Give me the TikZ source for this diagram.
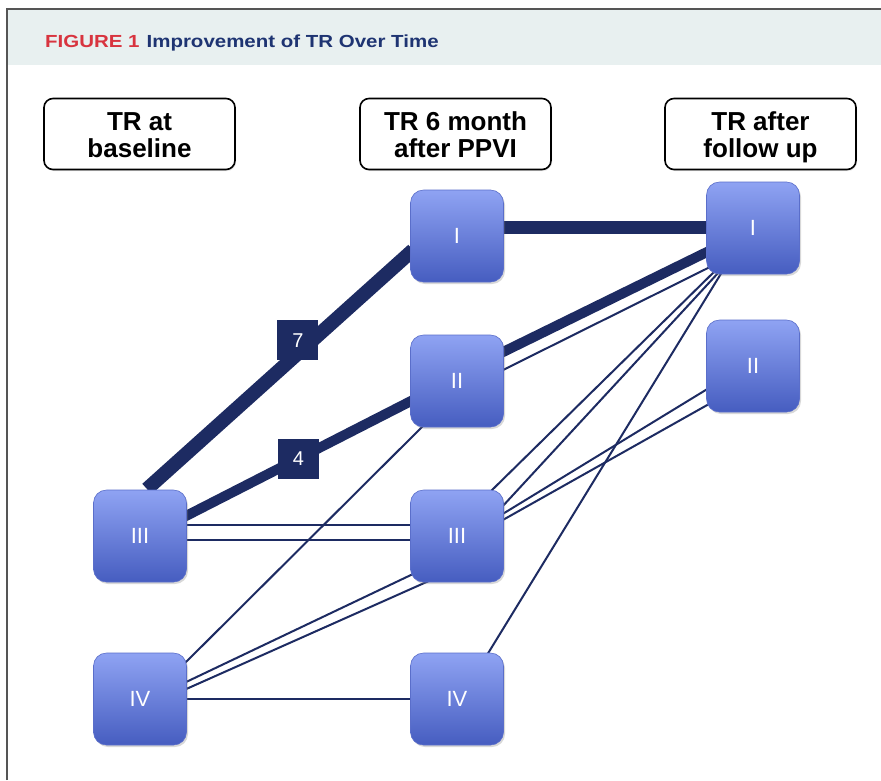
\documentclass[tikz,border=0pt]{standalone}
\usepackage{fontspec}
\setmainfont{Liberation Sans}
\newfontfamily\titlefont{Liberation Sans}[FakeStretch=1.17]
\usetikzlibrary{calc,shadows,backgrounds}
\definecolor{navy}{HTML}{1D2B62}
\definecolor{nodetop}{HTML}{8FA3F3}
\definecolor{nodebot}{HTML}{465DC0}
\definecolor{nodeedge}{HTML}{5A6ECA}
\definecolor{bandfill}{HTML}{E8F0F0}
\definecolor{framegray}{HTML}{555555}
\definecolor{figred}{HTML}{D8343F}
\definecolor{figblue}{HTML}{1E3472}
\newcommand{\hstrut}{\rule{0pt}{25pt}}
\begin{document}
\begin{tikzpicture}[x=1pt,y=-1pt,
  rn/.style={rectangle, rounded corners=13pt, minimum width=93pt, minimum height=92pt,
    top color=nodetop, bottom color=nodebot, draw=nodeedge, line width=0.6pt,
    text=white, font=\fontsize{22}{22}\selectfont,
    drop shadow={shadow xshift=1.5pt, shadow yshift=-2pt, opacity=0.3}},
  hdr/.style={rectangle, rounded corners=9pt, minimum width=191pt, minimum height=71pt,
    draw=black, line width=1.6pt, fill=white, align=center,
    font=\fontsize{26}{27}\selectfont\bfseries,
    drop shadow={shadow xshift=1pt, shadow yshift=-1.5pt, opacity=0.2}},
  lab/.style={rectangle, fill=navy, minimum width=41pt, minimum height=40pt, inner sep=0pt,
    text=white, font=\fontsize{20}{20}\selectfont},
  thin/.style={draw=navy, line width=2pt},
  thickA/.style={draw=navy, line width=14pt},
  thickB/.style={draw=navy, line width=10pt},
  thickC/.style={draw=navy, line width=13pt}
]
\useasboundingbox (0,0) rectangle (881,780);
% header band and frame
\fill[bandfill] (8,10) rectangle (881,65);
\draw[framegray, line width=2pt] (7,780) -- (7,9) -- (881,9);
\node[anchor=base west, inner sep=0pt, font=\titlefont\fontsize{17.5}{17.5}\selectfont\bfseries] (title) at (45,47)
  {\textcolor{figred}{FIGURE 1}\hspace{7pt}\textcolor{figblue}{Improvement of TR Over Time}};
% column headers
\node[hdr] (h1) at (139.5,134) {\hstrut TR at\\baseline\vphantom{p}};
\node[hdr] (h2) at (455.5,134) {\hstrut TR 6 month\\after PPVI\vphantom{p}};
\node[hdr] (h3) at (760.5,134) {\hstrut TR after\\follow up};
% nodes
\node[rn] (a3) at (140,536) {III};
\node[rn] (a4) at (140,699) {IV};
\node[rn] (b1) at (457,236) {I};
\node[rn] (b2) at (457,381) {II};
\node[rn] (b3) at (457,536) {III};
\node[rn] (b4) at (457,699) {IV};
\node[rn] (c1) at (753,228) {I};
\node[rn] (c2) at (753,366) {II};
% connectors behind the nodes
\begin{pgfonlayer}{background}
\fill[white] (0,0) rectangle (881,780);
\draw[thickA] ($(a3)+(7,-47)$) -- node[lab, pos=0.56, xshift=2pt, yshift=15pt] (l7) {7} ($(b1)+(-44,14)$);
\draw[thickB] ($(a3)+(44,-19)$) -- node[lab, pos=0.5] (l4) {4} ($(b2)+(-44,19)$);
\draw[thin] ($(a3)+(44,-11)$) -- ($(b3)+(-44,-11)$);
\draw[thin] ($(a3)+(44,4)$) -- ($(b3)+(-44,4)$);
\draw[thin] ($(a4)+(44,-35)$) -- ($(b2)+(-33,44)$);
\draw[thin] ($(a4)+(44,-16)$) -- ($(b3)+(-44,38)$);
\draw[thin] ($(a4)+(44,-9)$) -- ($(b3)+(-26,44)$);
\draw[thin] ($(a4)+(44,0)$) -- ($(b4)+(-44,0)$);
\draw[thickC] ($(b1)+(44,-9)$) -- ($(c1)+(-44,-1)$);
\draw[thickB] ($(b2)+(44,-28)$) -- ($(c1)+(-44,23)$);
\draw[thin] ($(b2)+(44,-10)$) -- ($(c1)+(-41,38)$);
\draw[thin] ($(b3)+(33,-44)$) -- ($(c1)+(-37,42)$);
\draw[thin] ($(b3)+(44,-28)$) -- ($(c1)+(-34,44)$);
\draw[thin] ($(b3)+(44,-21)$) -- ($(c2)+(-44,22)$);
\draw[thin] ($(b3)+(44,-15)$) -- ($(c2)+(-44,38)$);
\draw[thin] ($(b4)+(30,-44)$) -- ($(c1)+(-31,44)$);
\end{pgfonlayer}
\end{tikzpicture}
\end{document}
